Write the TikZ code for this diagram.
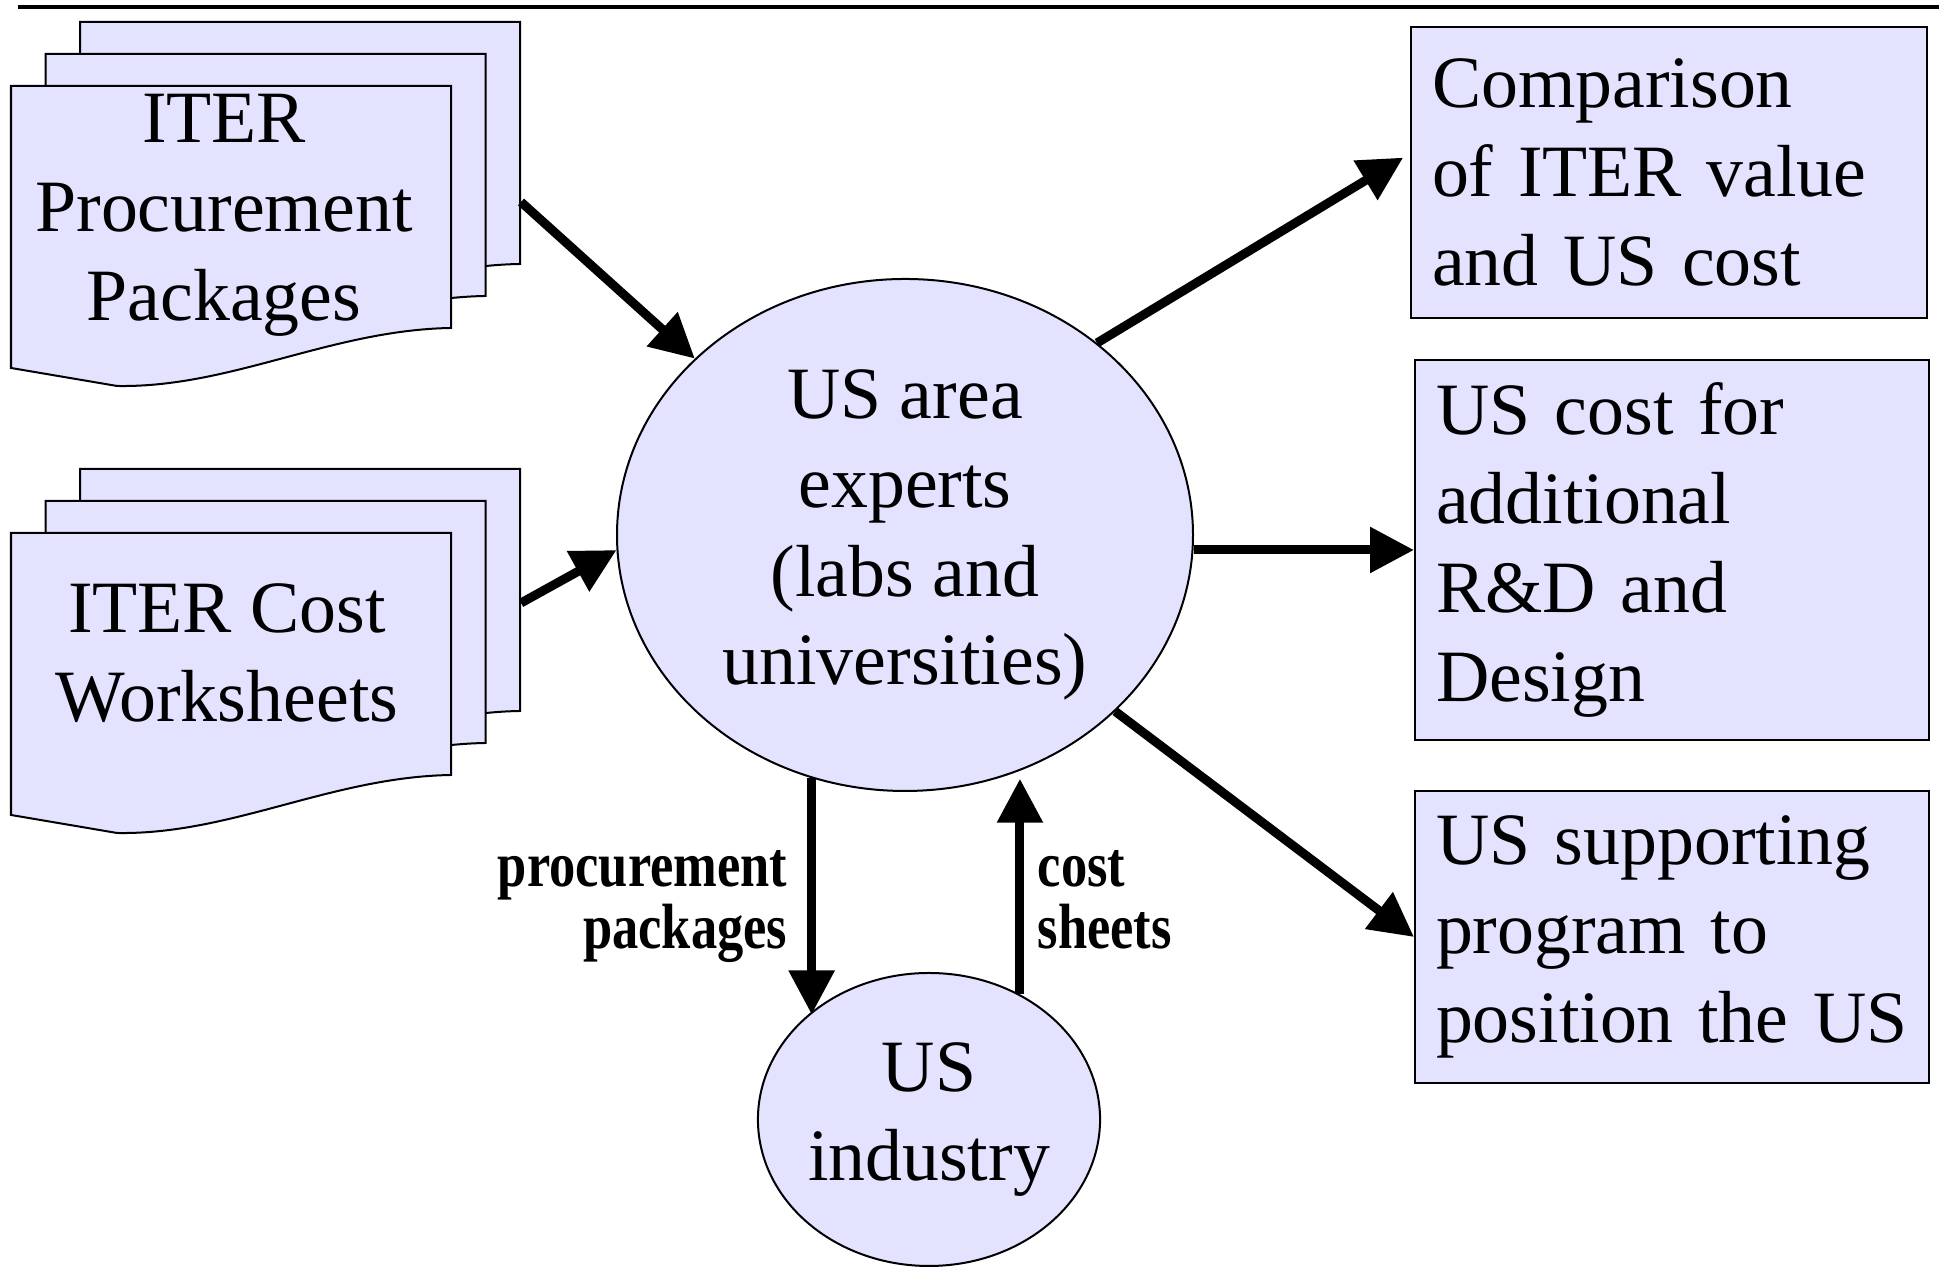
\documentclass[tikz,border=0pt]{standalone}
\usepackage{fontspec}
\setmainfont{Liberation Serif}
\usepackage{graphicx}
\usepackage{xcolor}
\usetikzlibrary{arrows.meta, shapes.geometric}
\definecolor{lavender}{RGB}{227,227,255}
\newcommand{\squeeze}[1]{\scalebox{0.82}[1]{#1}}

\begin{document}
\begin{tikzpicture}[>={Triangle[length=0.44cm, width=0.44cm]},
    txt/.style={font=\fontsize{21}{25.3}\selectfont},
    sheet/.style={draw, fill=lavender, line width=0.02cm},
    flow/.style={->, line width=0.09cm},
    lbl/.style={font=\fontsize{18.2}{17.6}\selectfont\bfseries, inner sep=0pt},
    outbox/.style={txt, sheet, inner xsep=0.21cm, minimum width=5.14cm, text width=4.72cm, align=left},
    docsheet/.pic={\draw[sheet] (0,0) -- (4.4,0) -- (4.4,-2.42) .. controls (3.2,-2.44) and (2.2,-3.02) .. (1.06,-3.0) -- (0,-2.82) -- cycle;}]
    \useasboundingbox (0,0) rectangle (19.39,12.68);

    % rule at the top
    \draw[line width=0.045cm] (0.18,12.61) -- (19.39,12.61);

    % document stacks
    \foreach \sy in {11.82, 7.35}
        \foreach \k in {2,1,0}
            \pic at ({0.11+0.345*\k}, {\sy+0.32*\k}) {docsheet};
    \node[txt, align=center] (pp) at (2.24,10.53) {ITER\\Procurement\\Packages};
    \node[txt, align=center] (cw) at (2.27,6.15) {ITER Cost\\Worksheets};
    \coordinate (ppout) at (5.21,10.66);
    \coordinate (cwout) at (5.21,6.65);

    % experts and industry
    \node[txt, ellipse, sheet, minimum width=5.76cm, minimum height=5.12cm, inner sep=0pt, align=center] (expert) at (9.05,7.33) {US area\\experts\\(labs and\\universities)};
    \node[txt, ellipse, sheet, minimum width=3.32cm, minimum height=2.93cm, inner sep=0pt, align=center] (industry) at (9.29,1.485) {US\\industry};

    % results
    \node[outbox, minimum width=5.16cm, text width=4.74cm, minimum height=2.91cm] (compare) at (16.69,10.955) {Comparison\\of ITER value\\and US cost};
    \node[outbox, minimum height=3.80cm] (rnd) at (16.72,7.18) {US cost for\\additional\\R\&D and\\Design};
    \node[outbox, minimum height=2.92cm] (support) at (16.72,3.31) {US supporting\\program to\\position the US};

    % flows
    \draw[flow] (ppout) -- (expert.140);
    \draw[flow] (cwout) -- (expert.183);
    \draw[flow, shorten >=0.08cm] (expert.45) -- ([yshift=0.19cm]compare.west);
    \draw[flow] (rnd.west -| expert.east) -- (rnd.west);
    \draw[flow] (expert.-40) -- (support.west);
    \draw[flow] (expert.-111) -- (expert.-111 |- industry.139);
    \draw[flow, shorten >=0.08cm] (industry.54) -- (industry.54 |- expert.-64);

    \node[lbl, anchor=east, align=right] (pplbl) at (7.88,3.615) {\squeeze{procurement}\\\squeeze{packages}};
    \node[lbl, anchor=west, align=left] (cslbl) at (10.37,3.685) {\squeeze{cost}\\\squeeze{sheets}};
\end{tikzpicture}
\end{document}
